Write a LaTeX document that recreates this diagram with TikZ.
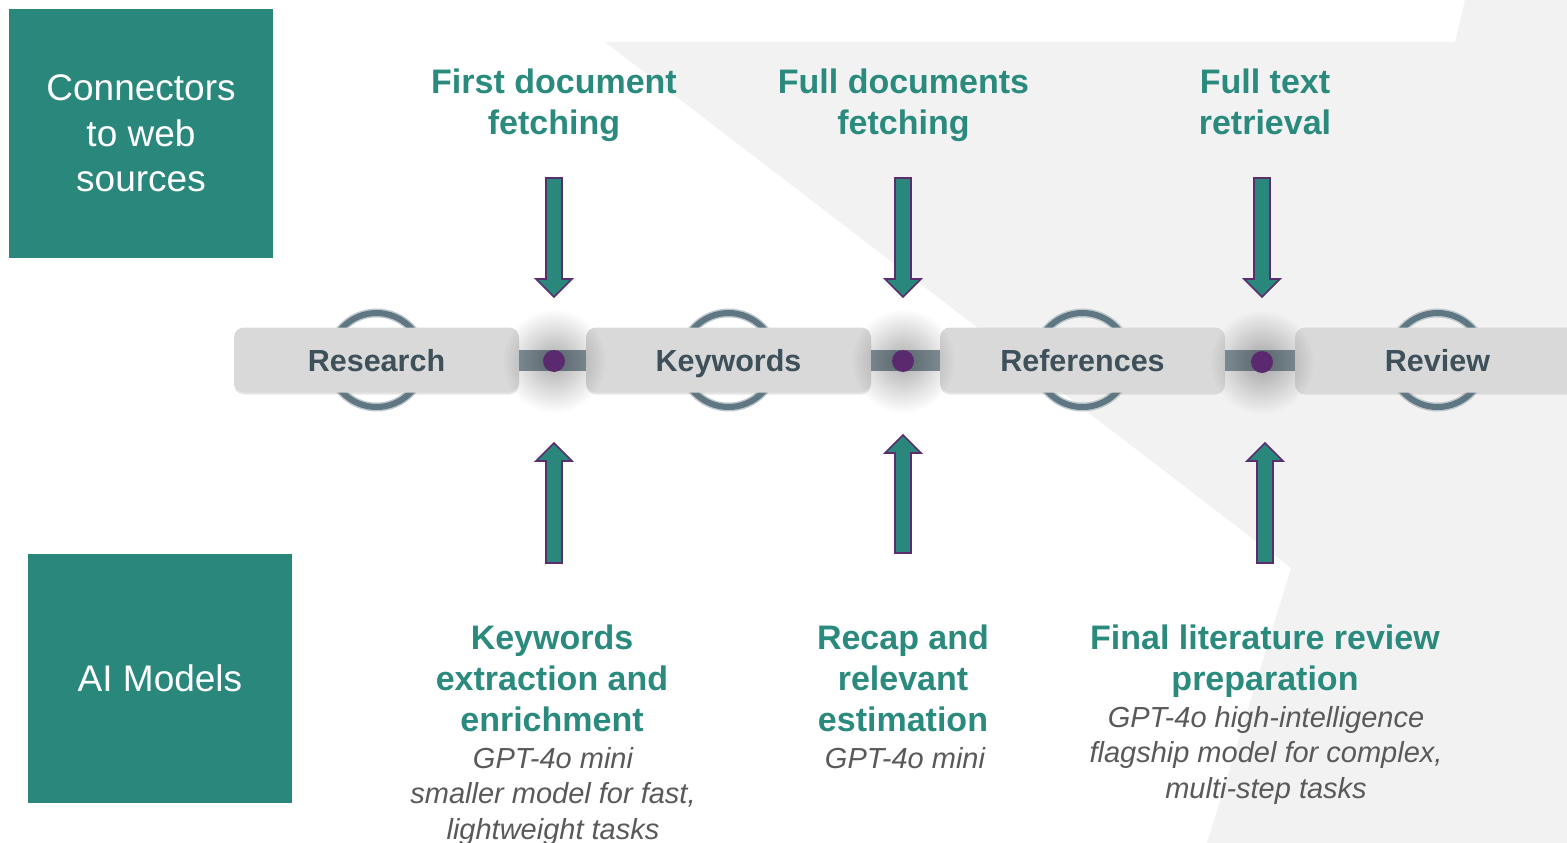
\documentclass[tikz,border=0pt]{standalone}
\usepackage{fontspec}
\setmainfont{Liberation Sans}
\usetikzlibrary{fadings,shadows}
\definecolor{tealbox}{HTML}{2A877B}
\definecolor{tealtext}{HTML}{2A8A7D}
\definecolor{arrpurple}{HTML}{5A2D6E}
\definecolor{dotpurple}{HTML}{5B2A6E}
\definecolor{bggrey}{HTML}{F2F2F2}
\definecolor{boxgrey}{HTML}{D9D9D9}
\definecolor{boxtext}{HTML}{3E515B}
\definecolor{barcol}{HTML}{8797A0}
\definecolor{ringcol}{HTML}{5F7782}
\definecolor{modeltext}{HTML}{595959}
\tikzfading[name=softfade, inner color=transparent!0, outer color=transparent!100]
\newcommand\blkarrow[4]{%
  \filldraw[blockarr] (#1-8,#2) -- (#1+8,#2) -- (#1+8,#3) -- (#1+18,#3) -- (#1,#4) -- (#1-18,#3) -- (#1-8,#3) -- cycle;}
\begin{document}
\begin{tikzpicture}[x=1pt,y=-1pt,
  srcbox/.style={fill=tealbox, text=white, minimum width=264pt, minimum height=249pt, inner sep=0pt, align=center, font=\fontsize{37}{45.5}\selectfont},
  procbox/.style={fill=boxgrey, rounded corners=10pt, minimum width=285pt, minimum height=65pt, inner sep=0pt, text=boxtext, font=\fontsize{30.5}{36}\selectfont\bfseries, text height=22pt, text depth=0pt, drop shadow={shadow xshift=0pt, shadow yshift=-2pt, opacity=.2}},
  ringline/.style={draw=ringcol, line width=6pt},
  ringhalo/.style={draw=ringcol!40, line width=9pt},
  barline/.style={draw=barcol, line width=21pt},
  dotn/.style={circle, fill=dotpurple, minimum size=22pt, inner sep=0pt},
  blockarr/.style={fill=tealbox, draw=arrpurple, line width=1.6pt},
  toplabel/.style={anchor=base, align=center, inner sep=0pt, text=tealtext, font=\fontsize{34}{41}\selectfont\bfseries},
  modellabel/.style={anchor=base, align=center, inner sep=0pt, text=modeltext, font=\fontsize{29}{35.5}\selectfont\itshape}
]
\useasboundingbox (0,0) rectangle (1567,843);
% background shape
\fill[bggrey] (605,42) -- (1455,42) -- (1465,0) -- (1567,0) -- (1567,843) -- (1207,843) -- (1291,568) -- cycle;

% left boxes
\node[srcbox] (conn) at (141,133.5) {Connectors\\to web\\sources};
\node[srcbox] (ai) at (160,678.5) {AI Models};

% ring centres and rings
\coordinate (c1) at (376.5,360);
\coordinate (c2) at (728.5,360);
\coordinate (c3) at (1082.5,360);
\coordinate (c4) at (1437.5,360);
\foreach \c in {c1,c2,c3,c4} {
  \draw[ringhalo] (\c) circle[radius=47pt];
  \draw[ringline] (\c) circle[radius=47pt];
}

% process boxes
\node[procbox] (research) at (c1) {Research};
\node[procbox] (keywords) at (c2) {Keywords};
\node[procbox] (references) at (c3) {References};
\node[procbox] (review) at (c4) {Review};

% bars between boxes
\draw[barline] (research.east) -- (keywords.west);
\draw[barline] (keywords.east) -- (references.west);
\draw[barline] (references.east) -- (review.west);

% dots with soft shadows
\coordinate (p1) at (554,361);
\coordinate (p2) at (903,361);
\coordinate (p3) at (1262,362);
\foreach \p in {p1,p2,p3} \fill[black, opacity=0.32, path fading=softfade] (\p) circle[radius=52pt];
\node[dotn] (d1) at (p1) {};
\node[dotn] (d2) at (p2) {};
\node[dotn] (d3) at (p3) {};

% block arrows
\blkarrow{554}{178}{279}{297}
\blkarrow{903}{178}{279}{297}
\blkarrow{1262}{178}{279}{297}
\blkarrow{554}{563}{461}{443}
\blkarrow{903}{553}{453}{435}
\blkarrow{1265}{563}{461}{443}

% top labels (anchor = baseline of last line)
\node[toplabel] (tl1) at (554,135) {First document\\fetching};
\node[toplabel] (tl2) at (903.5,135) {Full documents\\fetching};
\node[toplabel] (tl3) at (1265,135) {Full text\\retrieval};

% bottom labels
\node[toplabel] (bl1) at (552,731) {Keywords\\extraction and\\enrichment};
\node[toplabel] (bl2) at (903,731) {Recap and\\relevant\\estimation};
\node[toplabel] (bl3) at (1265,690) {Final literature review\\preparation};
\node[modellabel] (m1) at (553,839) {GPT-4o mini\\smaller model for fast,\\lightweight tasks};
\node[modellabel] (m2) at (905,768) {GPT-4o mini};
\node[modellabel] (m3) at (1266,798) {GPT-4o high-intelligence\\flagship model for complex,\\multi-step tasks};
\end{tikzpicture}
\end{document}
